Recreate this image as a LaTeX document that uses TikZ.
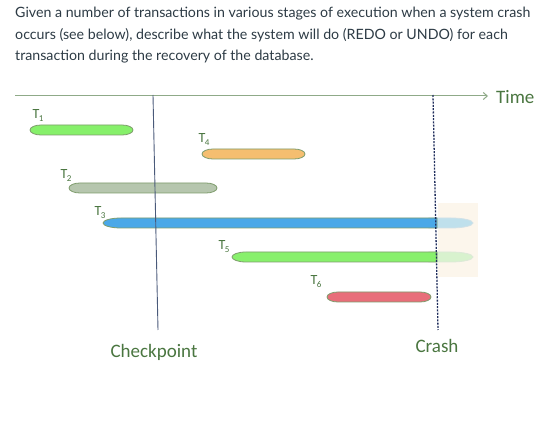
\documentclass[tikz,border=0pt]{standalone}
\usepackage{fontspec}
\setmainfont{Lato}
\newfontfamily\calib{Carlito}
\usetikzlibrary{arrows.meta}
\definecolor{txt}{HTML}{2D3B45}
\definecolor{lbl}{HTML}{4A7640}
\definecolor{outl}{HTML}{7E9C6C}
\definecolor{axisc}{HTML}{8FAA88}
\definecolor{ckpt}{HTML}{4A5A7A}
\definecolor{crashc}{HTML}{1F2D5C}
\definecolor{cT1}{HTML}{86F06A}
\definecolor{cT2}{HTML}{B6C6AE}
\definecolor{cT3}{HTML}{4AA8E8}
\definecolor{cT3l}{HTML}{BFE0EC}
\definecolor{cT4}{HTML}{F5BE70}
\definecolor{cT5}{HTML}{88F06C}
\definecolor{cT5l}{HTML}{D8F2CE}
\definecolor{cT6}{HTML}{E86E7A}
\definecolor{beige}{HTML}{FCF6EC}
% #1 left x, #2 right x, #3 y, #4 left taper, #5 right taper, #6 fill, #7 draw
\newcommand\txbar[7]{%
  \filldraw[fill=#6,draw=#7,line width=0.8pt]
    (#1+#4,#3-5) -- (#2-#5,#3-5)
    arc[start angle=90,end angle=-90,x radius=#5pt,y radius=5pt]
    -- (#1+#4,#3+5)
    arc[start angle=270,end angle=90,x radius=#4pt,y radius=5pt] -- cycle;}
\newcommand\txbarflat[6]{%
  \filldraw[fill=#5,draw=#6,line width=0.8pt]
    (#1+#4,#3-5) -- (#2,#3-5) -- (#2,#3+5)
    -- (#1+#4,#3+5)
    arc[start angle=270,end angle=90,x radius=#4pt,y radius=5pt] -- cycle;}
\newcommand\tsub[1]{T\kern-0.5pt\raisebox{-3pt}{\fontsize{9}{10}\selectfont #1}}
\tikzset{
  title/.style={anchor=base west,inner sep=0pt,text=txt,font=\fontsize{14.2}{17}\selectfont},
  tlabel/.style={inner sep=0pt,text=lbl,font=\calib\fontsize{14}{16}\selectfont},
  biglabel/.style={inner sep=0pt,text=lbl,font=\calib\fontsize{19}{22}\selectfont},
}
\begin{document}
\begin{tikzpicture}[x=1pt,y=-1pt]
\useasboundingbox[fill=white] (0,0) rectangle (550,441);
\node[title] (l1) at (15,18) {Given a number of transactions in various stages of execution when a system crash};
\node[title] (l2) at (15,39.5) {occurs (see below), describe what the system will do (REDO or UNDO) for each};
\node[title] (l3) at (15,60.5) {transaction during the recovery of the database.};
% beige area
\fill[beige] (438,203) rectangle (478,277);
% axis
\coordinate (a0) at (15,96);
\coordinate (a1) at (488,96);
\draw[axisc,line width=1pt,-{Straight Barb[length=4pt,width=7pt]}] (a0) -- (a1);
\node[biglabel,anchor=west] (time) at (496,97) {Time};
% bars
\txbar{30}{133}{130}{11}{11}{cT1}{outl}
\txbar{202}{305}{154}{11}{11}{cT4}{outl}
\txbar{69}{217}{188}{11}{11}{cT2}{outl}
\txbar{425}{473}{223}{4}{22}{cT3l}{cT3l!80!gray!60}
\txbarflat{103}{437}{223}{18}{cT3}{outl}
\txbar{425}{473}{257}{4}{22}{cT5l}{cT5l!80!gray!60}
\txbarflat{232}{437}{257}{14}{cT5}{outl}
\txbar{327}{431}{297}{11}{11}{cT6}{outl}
% labels
\node[tlabel] (t1) at (38,116) {\tsub{1}};
\node[tlabel] (t4) at (204,140) {\tsub{4}};
\node[tlabel] (t2) at (66,176) {\tsub{2}};
\node[tlabel] (t3) at (100,213) {\tsub{3}};
\node[tlabel] (t5) at (224,247) {\tsub{5}};
\node[tlabel] (t6) at (316,282) {\tsub{6}};
% checkpoint and crash lines
\coordinate (c0) at (153,95);
\coordinate (c1) at (158,330);
\draw[ckpt,line width=0.9pt] (c0) -- (c1);
\coordinate (k0) at (433,95);
\coordinate (k1) at (438,330);
\draw[crashc,line width=1.3pt,dash pattern=on 2pt off 1.3pt] (k0) -- (k1);
\node[biglabel] (ck) at (154,352) {Checkpoint};
\node[biglabel] (cr) at (437,346) {Crash};
\end{tikzpicture}
\end{document}
